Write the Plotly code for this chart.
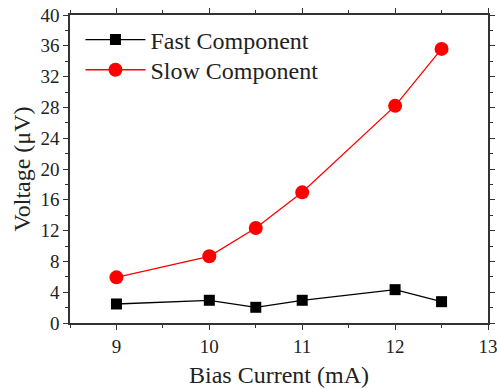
import plotly.graph_objects as go

bias_current = [9, 10, 10.5, 11, 12, 12.5]
fast_component = [2.47, 2.95, 2.04, 2.95, 4.33, 2.77]
slow_component = [5.93, 8.66, 12.34, 16.97, 28.2, 35.6]
x_ticks = [9, 10, 11, 12, 13]
y_ticks = [0, 4, 8, 12, 16, 20, 24, 28, 32, 36, 40]

fig = go.Figure()
fig.add_trace(go.Scatter(x=bias_current, y=fast_component, mode="lines+markers",
                         name="Fast Component", legend="legend", showlegend=True,
                         line=dict(color="black", width=1.3),
                         marker=dict(symbol="square", size=11, color="black")))
fig.add_trace(go.Scatter(x=bias_current, y=slow_component, mode="lines+markers",
                         name="Slow Component", legend="legend2", showlegend=True,
                         line=dict(color="red", width=1.3),
                         marker=dict(symbol="circle", size=14, color="red")))

font = "Liberation Serif, Times New Roman, serif"
axis_common = dict(showline=True, linecolor="#333", linewidth=1.5, mirror="ticks",
                   ticks="outside", ticklen=5, tickwidth=1.2, tickcolor="#333",
                   showgrid=False, zeroline=False, automargin=False,
                   ticklabeloverflow="allow",
                   tickfont=dict(family=font, size=19, color="#222"))
fig.update_xaxes(range=[8.5, 13], tickvals=x_ticks,
                 minor=dict(ticks="outside", ticklen=3, tickcolor="#333", dtick=0.5),
                 title=dict(text="Bias Current (mA)", font=dict(family=font, size=24, color="#222"), standoff=14),
                 **axis_common)
fig.update_yaxes(range=[0, 40], tickvals=y_ticks,
                 minor=dict(ticks="outside", ticklen=3, tickcolor="#333", dtick=2),
                 title=dict(text="Voltage (μV)", font=dict(family=font, size=24, color="#222"), standoff=3),
                 **axis_common)
legend_style = dict(x=0.025, xanchor="left", yanchor="middle",
                    bgcolor="rgba(0,0,0,0)",
                    font=dict(family=font, size=24, color="#222"),
                    tracegroupgap=0, itemwidth=60)
fig.update_layout(width=497, height=388, margin=dict(l=70, r=9, t=15, b=65),
                  plot_bgcolor="white", paper_bgcolor="white", showlegend=True,
                  legend=dict(y=0.919, **legend_style),
                  legend2=dict(y=0.821, **legend_style))
fig.write_html("out.html", config={"displayModeBar": False},
               post_script="document.body.style.margin='0';")
